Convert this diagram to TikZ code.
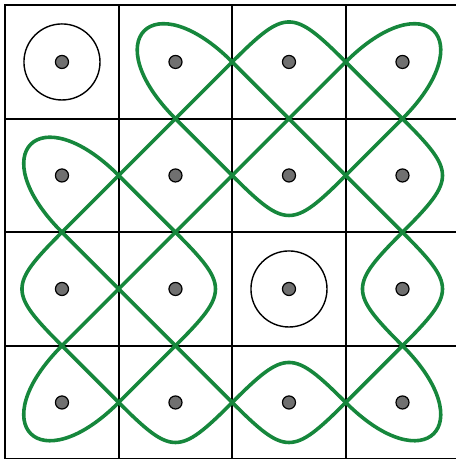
\documentclass[tikz,border=0pt]{standalone}
\usetikzlibrary{calc}
\definecolor{kgreen}{RGB}{22,135,60}
\definecolor{dotgray}{RGB}{112,112,112}

\begin{document}
\begin{tikzpicture}[
 cell/.style={draw,line width=0.6pt},
 dot/.style={circle,draw,line width=0.3pt,fill=dotgray,inner sep=0pt,minimum size=0.115cm},
 ring/.style={draw,line width=0.35pt},
 kolam/.style={draw=kgreen,line width=0.9pt,line cap=round,line join=round}]
\useasboundingbox (-0.546,0.546) rectangle (3.471,-3.498);
% squares and dots
\foreach \r in {0,...,3}
 \foreach \c in {0,...,3}
  \draw[cell] (\c-0.5,-\r-0.5) rectangle ++(1,1);
\foreach \r in {0,...,3}
 \foreach \c in {0,...,3}
  \coordinate (p\r\c) at (\c,-\r);
\draw[ring] (p00) circle (0.335);
\draw[ring] (p22) circle (0.335);
% straight strands
\draw[kolam] (1.5,0) -- (0,-1.5);
\draw[kolam] (2.5,0) -- (0,-2.5);
\draw[kolam] (3,-0.5) -- (2.5,-1);
\draw[kolam] (1,-2.5) -- (0.5,-3);
\draw[kolam] (3,-2.5) -- (2.5,-3);
\draw[kolam] (2.5,0) -- (3,-0.5);
\draw[kolam] (1.5,0) -- (3,-1.5);
\draw[kolam] (1,-0.5) -- (1.5,-1);
\draw[kolam] (0.5,-1) -- (1,-1.5);
\draw[kolam] (0,-1.5) -- (1.5,-3);
\draw[kolam] (0,-2.5) -- (0.5,-3);
% caps
\foreach \x/\y/\a in {2/0/0,2/-1/180,3/-1/270,0/-2/90,1/-2/270,3/-2/90,3/-2/270,1/-3/180,2/-3/0,2/-3/180}
 \draw[kolam,shift={(\x,\y)},rotate=\a] (-0.5,0) .. controls (-0.03,0.47) and (0.03,0.47) .. (0.5,0);
% corner loops
\foreach \x/\y/\a in {1/0/0,0/-1/0,3/0/270,0/-3/90,3/-3/180}
 \draw[kolam,shift={(\x,\y)},rotate=\a] (0.5,0) .. controls (-0.2,0.7) and (-0.7,0.2) .. (0,-0.5);
\foreach \r in {0,...,3}
 \foreach \c in {0,...,3}
  \node[dot] (d\r\c) at (p\r\c) {};
\end{tikzpicture}
\end{document}
